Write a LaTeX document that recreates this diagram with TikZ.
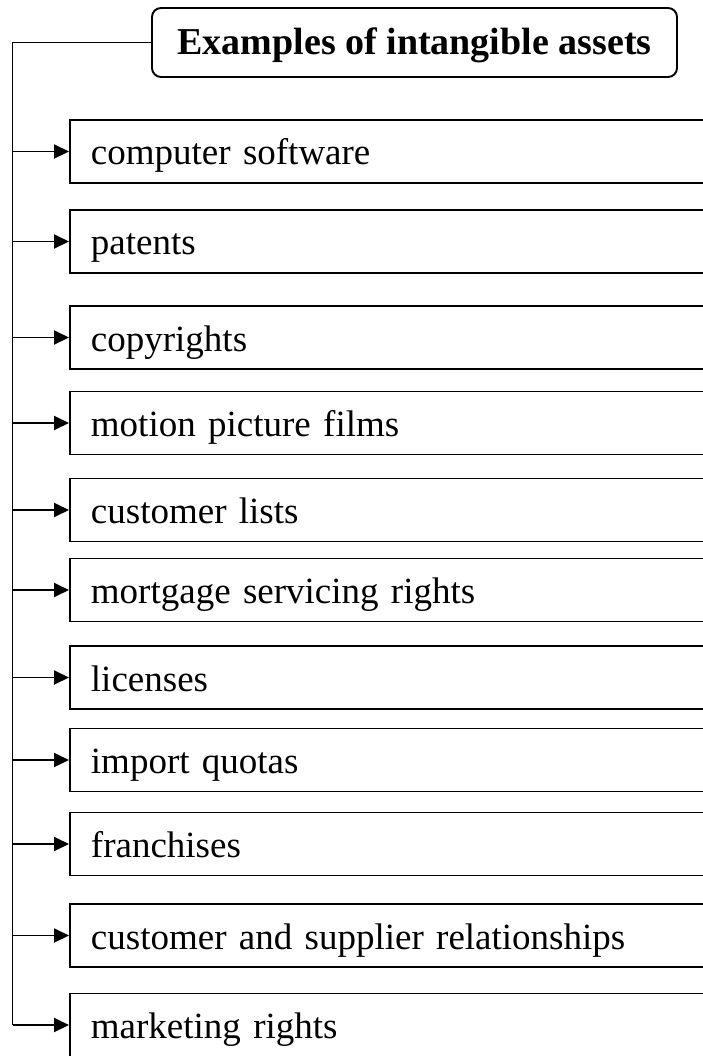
\documentclass[tikz,border=0pt]{standalone}
\usepackage{fontspec}
\setmainfont{Liberation Serif}
\usetikzlibrary{arrows.meta,positioning}

\begin{document}
\begin{tikzpicture}[x=1pt,y=-1pt,line width=1.9pt]
    \tikzstyle{every node}=[font=\fontsize{37}{44}\selectfont]
    \tikzstyle{head}=[draw,rounded corners=9pt,minimum width=525pt,minimum height=69pt,text height=30pt,text depth=5pt,font=\fontsize{38}{44}\selectfont\bfseries]
    \tikzstyle{item}=[draw,anchor=west,minimum height=63pt,text width=629pt,inner xsep=21pt,align=left,text height=30pt,text depth=3pt]
    \tikzstyle{link}=[-{Triangle[length=15pt,width=14pt]}]
    \path[use as bounding box,clip] (0,0) rectangle (703,1056);
    \node[head] (head) at (414.5,42.5) {Examples of intangible assets};
    \coordinate (top) at (12.5,42.5);
    \foreach \n/\y/\t in {1/151.5/computer software, 2/241.5/patents, 3/337.5/copyrights,
        4/423/motion picture films, 5/510/customer lists, 6/590/mortgage servicing rights,
        7/677.5/licenses, 8/760/import quotas, 9/844/franchises,
        10/935.5/customer and supplier relationships, 11/1025/marketing rights} {
        \node[item] (b\n) at (69,\y) {\t};
        \draw[link] (top |- b\n.west) -- (b\n.west);
    }
    \draw (head.west) -- (top) -- (top |- b11.west);
\end{tikzpicture}
\end{document}
